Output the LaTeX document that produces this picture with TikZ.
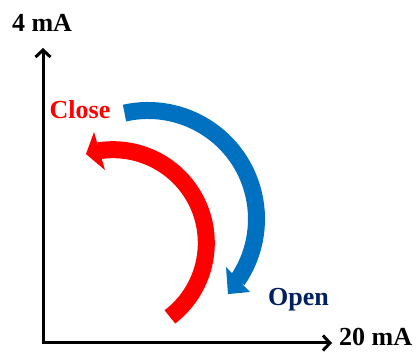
\documentclass[tikz,border=0pt]{standalone}
\usepackage{fontspec}
\setmainfont{Liberation Serif}
\usetikzlibrary{arrows.meta,calc}
\definecolor{openblue}{HTML}{0070C0}
\definecolor{opennavy}{HTML}{002060}

\begin{document}
\begin{tikzpicture}[x=1pt, y=1pt,
  axis/.style={line width=3pt, line join=miter,
    {Straight Barb[length=7pt,width=15pt]}-{Straight Barb[length=7pt,width=15pt]}},
  band/.style={line width=17pt},
  lbl/.style={font=\fontsize{26}{30}\selectfont\bfseries, inner sep=0pt, anchor=base}]
  \useasboundingbox (0,0) rectangle (417,352);
  % Axes
  \coordinate (O) at (43,9);
  \coordinate (ytip) at (43,304);
  \coordinate (xtip) at (332,9);
  \draw[axis] (ytip) -- (O) -- (xtip);
  \node[lbl] (ylab) at (42,320) {4 mA};
  \node[lbl, anchor=base west] (xlab) at (339,6) {20 mA};
  % Close arrow
  \coordinate (rc) at (113,109);
  \draw[band, red] (rc) ++(-52.4:93.3) arc[start angle=-52.4, end angle=99, radius=93.3];
  \fill[red] ($(rc)+(99.7:112.6)$) -- ($(rc)+(106.9:93)$) -- ($(rc)+(96.3:73.4)$) -- cycle;
  \node[lbl, text=red] (close) at (80,233) {Close};
  % Open arrow
  \coordinate (bc) at (148,133);
  \draw[band, openblue] (bc) ++(102.5:108.5) arc[start angle=102.5, end angle=-34.5, radius=108.5];
  \fill[openblue] ($(bc)+(-31.6:91.6)$) -- ($(bc)+(-43.2:109.7)$) -- ($(bc)+(-35.6:125.4)$) -- cycle;
  \node[lbl, text=opennavy] (open) at (298.5,46) {Open};
\end{tikzpicture}
\end{document}
